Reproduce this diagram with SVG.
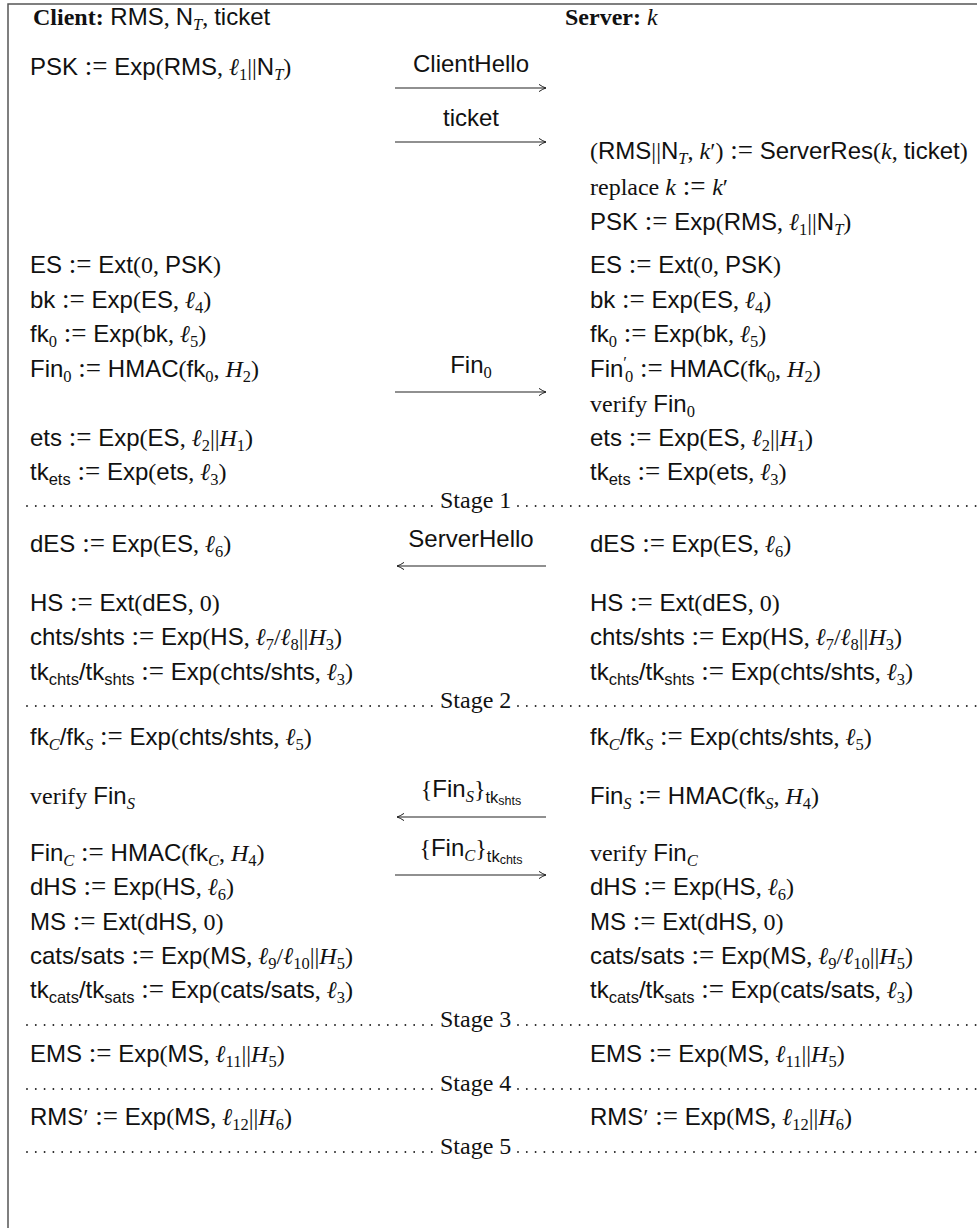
<svg xmlns="http://www.w3.org/2000/svg" width="977" height="1228" viewBox="0 0 977 1228">
<style>
text { font-family: "Liberation Sans", "DejaVu Sans", sans-serif; font-size: 24px; fill: #111; }
.r { font-family: "Liberation Serif", "DejaVu Serif", serif; }
.i { font-family: "Liberation Serif", "DejaVu Serif", serif; font-style: italic; }
.b { font-family: "Liberation Serif", "DejaVu Serif", serif; font-weight: bold; }
.eq { font-family: "Liberation Serif", "DejaVu Serif", serif; font-size: 27px; }
.s { font-size: 16.5px; }
.ss { font-size: 12.5px; }
.lbl { text-anchor: middle; }
.arrow { stroke: #222; stroke-width: 1.1; fill: none; marker-end: url(#ah); }
.dots { stroke: #222; stroke-width: 1.9; stroke-linecap: round; stroke-dasharray: 0 8.8; fill: none; }
.frame { stroke: #555; stroke-width: 1.5; fill: none; }
</style>
<defs>
<marker id="ah" markerUnits="userSpaceOnUse" viewBox="-9 -6 11 12" refX="0" refY="0" markerWidth="11" markerHeight="12" orient="auto">
<path d="M -7 -3.6 Q -3 -0.8 0 0 Q -3 0.8 -7 3.6" fill="none" stroke="#222" stroke-width="1"/>
</marker>
</defs>
<rect width="977" height="1228" fill="#fff"/>
<path class="frame" d="M 8 1228 V 4 H 977"/>

<g id="header-client"><text x="33" y="25"><tspan class="b">Client:</tspan> RMS<tspan class="r">, </tspan>N<tspan class="i s" dy="5">T</tspan><tspan class="r" dy="-5">, </tspan>ticket</text></g>
<g id="header-server"><text x="565" y="25"><tspan class="b">Server:</tspan><tspan class="i"> k</tspan></text></g>

<g id="client">
<g id="c-psk"><text x="30" y="75">PSK<tspan class="eq"> := </tspan>Exp<tspan class="r">(</tspan>RMS<tspan class="r">, </tspan><tspan class="i">ℓ</tspan><tspan class="r s" dy="5">1</tspan><tspan class="r" dy="-5">||</tspan>N<tspan class="i s" dy="5">T</tspan><tspan class="r" dy="-5">)</tspan></text></g>
<g id="c-es"><text x="30" y="273">ES<tspan class="eq"> := </tspan>Ext<tspan class="r">(0, </tspan>PSK<tspan class="r">)</tspan></text></g>
<g id="c-bk"><text x="30" y="308">bk<tspan class="eq"> := </tspan>Exp<tspan class="r">(</tspan>ES<tspan class="r">, </tspan><tspan class="i">ℓ</tspan><tspan class="r s" dy="5">4</tspan><tspan class="r" dy="-5">)</tspan></text></g>
<g id="c-fk0"><text x="30" y="342">fk<tspan class="r s" dy="5">0</tspan><tspan class="eq" dy="-5"> := </tspan>Exp<tspan class="r">(</tspan>bk<tspan class="r">, </tspan><tspan class="i">ℓ</tspan><tspan class="r s" dy="5">5</tspan><tspan class="r" dy="-5">)</tspan></text></g>
<g id="c-fin0"><text x="30" y="377">Fin<tspan class="r s" dy="5">0</tspan><tspan class="eq" dy="-5"> := </tspan>HMAC<tspan class="r">(</tspan>fk<tspan class="r s" dy="5">0</tspan><tspan class="r" dy="-5">, </tspan><tspan class="i">H</tspan><tspan class="r s" dy="5">2</tspan><tspan class="r" dy="-5">)</tspan></text></g>
<g id="c-ets"><text x="30" y="446">ets<tspan class="eq"> := </tspan>Exp<tspan class="r">(</tspan>ES<tspan class="r">, </tspan><tspan class="i">ℓ</tspan><tspan class="r s" dy="5">2</tspan><tspan class="r" dy="-5">||</tspan><tspan class="i">H</tspan><tspan class="r s" dy="5">1</tspan><tspan class="r" dy="-5">)</tspan></text></g>
<g id="c-tkets"><text x="30" y="480">tk<tspan class="s" dy="5">ets</tspan><tspan class="eq" dy="-5"> := </tspan>Exp<tspan class="r">(</tspan>ets<tspan class="r">, </tspan><tspan class="i">ℓ</tspan><tspan class="r s" dy="5">3</tspan><tspan class="r" dy="-5">)</tspan></text></g>
<g id="c-des"><text x="30" y="552">dES<tspan class="eq"> := </tspan>Exp<tspan class="r">(</tspan>ES<tspan class="r">, </tspan><tspan class="i">ℓ</tspan><tspan class="r s" dy="5">6</tspan><tspan class="r" dy="-5">)</tspan></text></g>
<g id="c-hs"><text x="30" y="611">HS<tspan class="eq"> := </tspan>Ext<tspan class="r">(</tspan>dES<tspan class="r">, 0)</tspan></text></g>
<g id="c-chts"><text x="30" y="645">chts/shts<tspan class="eq"> := </tspan>Exp<tspan class="r">(</tspan>HS<tspan class="r">, </tspan><tspan class="i">ℓ</tspan><tspan class="r s" dy="5">7</tspan><tspan class="r" dy="-5">/</tspan><tspan class="i">ℓ</tspan><tspan class="r s" dy="5">8</tspan><tspan class="r" dy="-5">||</tspan><tspan class="i">H</tspan><tspan class="r s" dy="5">3</tspan><tspan class="r" dy="-5">)</tspan></text></g>
<g id="c-tkchts"><text x="30" y="680">tk<tspan class="s" dy="5">chts</tspan><tspan dy="-5">/tk</tspan><tspan class="s" dy="5">shts</tspan><tspan class="eq" dy="-5"> := </tspan>Exp<tspan class="r">(</tspan>chts/shts<tspan class="r">, </tspan><tspan class="i">ℓ</tspan><tspan class="r s" dy="5">3</tspan><tspan class="r" dy="-5">)</tspan></text></g>
<g id="c-fkcs"><text x="30" y="745">fk<tspan class="i s" dy="5">C</tspan><tspan dy="-5">/fk</tspan><tspan class="i s" dy="5">S</tspan><tspan class="eq" dy="-5"> := </tspan>Exp<tspan class="r">(</tspan>chts/shts<tspan class="r">, </tspan><tspan class="i">ℓ</tspan><tspan class="r s" dy="5">5</tspan><tspan class="r" dy="-5">)</tspan></text></g>
<g id="c-verifys"><text x="30" y="804"><tspan class="r">verify </tspan>Fin<tspan class="i s" dy="5">S</tspan></text></g>
<g id="c-finc"><text x="30" y="861">Fin<tspan class="i s" dy="5">C</tspan><tspan class="eq" dy="-5"> := </tspan>HMAC<tspan class="r">(</tspan>fk<tspan class="i s" dy="5">C</tspan><tspan class="r" dy="-5">, </tspan><tspan class="i">H</tspan><tspan class="r s" dy="5">4</tspan><tspan class="r" dy="-5">)</tspan></text></g>
<g id="c-dhs"><text x="30" y="895">dHS<tspan class="eq"> := </tspan>Exp<tspan class="r">(</tspan>HS<tspan class="r">, </tspan><tspan class="i">ℓ</tspan><tspan class="r s" dy="5">6</tspan><tspan class="r" dy="-5">)</tspan></text></g>
<g id="c-ms"><text x="30" y="930">MS<tspan class="eq"> := </tspan>Ext<tspan class="r">(</tspan>dHS<tspan class="r">, 0)</tspan></text></g>
<g id="c-cats"><text x="30" y="964">cats/sats<tspan class="eq"> := </tspan>Exp<tspan class="r">(</tspan>MS<tspan class="r">, </tspan><tspan class="i">ℓ</tspan><tspan class="r s" dy="5">9</tspan><tspan class="r" dy="-5">/</tspan><tspan class="i">ℓ</tspan><tspan class="r s" dy="5">10</tspan><tspan class="r" dy="-5">||</tspan><tspan class="i">H</tspan><tspan class="r s" dy="5">5</tspan><tspan class="r" dy="-5">)</tspan></text></g>
<g id="c-tkcats"><text x="30" y="998">tk<tspan class="s" dy="5">cats</tspan><tspan dy="-5">/tk</tspan><tspan class="s" dy="5">sats</tspan><tspan class="eq" dy="-5"> := </tspan>Exp<tspan class="r">(</tspan>cats/sats<tspan class="r">, </tspan><tspan class="i">ℓ</tspan><tspan class="r s" dy="5">3</tspan><tspan class="r" dy="-5">)</tspan></text></g>
<g id="c-ems"><text x="30" y="1062">EMS<tspan class="eq"> := </tspan>Exp<tspan class="r">(</tspan>MS<tspan class="r">, </tspan><tspan class="i">ℓ</tspan><tspan class="r s" dy="5">11</tspan><tspan class="r" dy="-5">||</tspan><tspan class="i">H</tspan><tspan class="r s" dy="5">5</tspan><tspan class="r" dy="-5">)</tspan></text></g>
<g id="c-rms"><text x="30" y="1125">RMS<tspan class="r">′</tspan><tspan class="eq"> := </tspan>Exp<tspan class="r">(</tspan>MS<tspan class="r">, </tspan><tspan class="i">ℓ</tspan><tspan class="r s" dy="5">12</tspan><tspan class="r" dy="-5">||</tspan><tspan class="i">H</tspan><tspan class="r s" dy="5">6</tspan><tspan class="r" dy="-5">)</tspan></text></g>
</g>

<g id="server">
<g id="s-res"><text x="590" y="159"><tspan class="r">(</tspan>RMS<tspan class="r">||</tspan>N<tspan class="i s" dy="5">T</tspan><tspan class="r" dy="-5">, </tspan><tspan class="i">k</tspan><tspan class="r">′)</tspan><tspan class="eq"> := </tspan>ServerRes<tspan class="r">(</tspan><tspan class="i">k</tspan><tspan class="r">, </tspan>ticket<tspan class="r">)</tspan></text></g>
<g id="s-replace"><text x="590" y="195"><tspan class="r">replace </tspan><tspan class="i">k</tspan><tspan class="eq"> := </tspan><tspan class="i">k</tspan><tspan class="r">′</tspan></text></g>
<g id="s-psk"><text x="590" y="230">PSK<tspan class="eq"> := </tspan>Exp<tspan class="r">(</tspan>RMS<tspan class="r">, </tspan><tspan class="i">ℓ</tspan><tspan class="r s" dy="5">1</tspan><tspan class="r" dy="-5">||</tspan>N<tspan class="i s" dy="5">T</tspan><tspan class="r" dy="-5">)</tspan></text></g>
<g id="s-es"><text x="590" y="273">ES<tspan class="eq"> := </tspan>Ext<tspan class="r">(0, </tspan>PSK<tspan class="r">)</tspan></text></g>
<g id="s-bk"><text x="590" y="308">bk<tspan class="eq"> := </tspan>Exp<tspan class="r">(</tspan>ES<tspan class="r">, </tspan><tspan class="i">ℓ</tspan><tspan class="r s" dy="5">4</tspan><tspan class="r" dy="-5">)</tspan></text></g>
<g id="s-fk0"><text x="590" y="342">fk<tspan class="r s" dy="5">0</tspan><tspan class="eq" dy="-5"> := </tspan>Exp<tspan class="r">(</tspan>bk<tspan class="r">, </tspan><tspan class="i">ℓ</tspan><tspan class="r s" dy="5">5</tspan><tspan class="r" dy="-5">)</tspan></text></g>
<g id="s-fin0"><text x="590" y="377">Fin<tspan class="r s" dy="-9">′</tspan><tspan class="r s" dx="-2" dy="14">0</tspan><tspan class="eq" dy="-5"> := </tspan>HMAC<tspan class="r">(</tspan>fk<tspan class="r s" dy="5">0</tspan><tspan class="r" dy="-5">, </tspan><tspan class="i">H</tspan><tspan class="r s" dy="5">2</tspan><tspan class="r" dy="-5">)</tspan></text></g>
<g id="s-verify0"><text x="590" y="412"><tspan class="r">verify </tspan>Fin<tspan class="r s" dy="5">0</tspan></text></g>
<g id="s-ets"><text x="590" y="446">ets<tspan class="eq"> := </tspan>Exp<tspan class="r">(</tspan>ES<tspan class="r">, </tspan><tspan class="i">ℓ</tspan><tspan class="r s" dy="5">2</tspan><tspan class="r" dy="-5">||</tspan><tspan class="i">H</tspan><tspan class="r s" dy="5">1</tspan><tspan class="r" dy="-5">)</tspan></text></g>
<g id="s-tkets"><text x="590" y="480">tk<tspan class="s" dy="5">ets</tspan><tspan class="eq" dy="-5"> := </tspan>Exp<tspan class="r">(</tspan>ets<tspan class="r">, </tspan><tspan class="i">ℓ</tspan><tspan class="r s" dy="5">3</tspan><tspan class="r" dy="-5">)</tspan></text></g>
<g id="s-des"><text x="590" y="552">dES<tspan class="eq"> := </tspan>Exp<tspan class="r">(</tspan>ES<tspan class="r">, </tspan><tspan class="i">ℓ</tspan><tspan class="r s" dy="5">6</tspan><tspan class="r" dy="-5">)</tspan></text></g>
<g id="s-hs"><text x="590" y="611">HS<tspan class="eq"> := </tspan>Ext<tspan class="r">(</tspan>dES<tspan class="r">, 0)</tspan></text></g>
<g id="s-chts"><text x="590" y="645">chts/shts<tspan class="eq"> := </tspan>Exp<tspan class="r">(</tspan>HS<tspan class="r">, </tspan><tspan class="i">ℓ</tspan><tspan class="r s" dy="5">7</tspan><tspan class="r" dy="-5">/</tspan><tspan class="i">ℓ</tspan><tspan class="r s" dy="5">8</tspan><tspan class="r" dy="-5">||</tspan><tspan class="i">H</tspan><tspan class="r s" dy="5">3</tspan><tspan class="r" dy="-5">)</tspan></text></g>
<g id="s-tkchts"><text x="590" y="680">tk<tspan class="s" dy="5">chts</tspan><tspan dy="-5">/tk</tspan><tspan class="s" dy="5">shts</tspan><tspan class="eq" dy="-5"> := </tspan>Exp<tspan class="r">(</tspan>chts/shts<tspan class="r">, </tspan><tspan class="i">ℓ</tspan><tspan class="r s" dy="5">3</tspan><tspan class="r" dy="-5">)</tspan></text></g>
<g id="s-fkcs"><text x="590" y="745">fk<tspan class="i s" dy="5">C</tspan><tspan dy="-5">/fk</tspan><tspan class="i s" dy="5">S</tspan><tspan class="eq" dy="-5"> := </tspan>Exp<tspan class="r">(</tspan>chts/shts<tspan class="r">, </tspan><tspan class="i">ℓ</tspan><tspan class="r s" dy="5">5</tspan><tspan class="r" dy="-5">)</tspan></text></g>
<g id="s-fins"><text x="590" y="804">Fin<tspan class="i s" dy="5">S</tspan><tspan class="eq" dy="-5"> := </tspan>HMAC<tspan class="r">(</tspan>fk<tspan class="i s" dy="5">S</tspan><tspan class="r" dy="-5">, </tspan><tspan class="i">H</tspan><tspan class="r s" dy="5">4</tspan><tspan class="r" dy="-5">)</tspan></text></g>
<g id="s-verifyc"><text x="590" y="861"><tspan class="r">verify </tspan>Fin<tspan class="i s" dy="5">C</tspan></text></g>
<g id="s-dhs"><text x="590" y="895">dHS<tspan class="eq"> := </tspan>Exp<tspan class="r">(</tspan>HS<tspan class="r">, </tspan><tspan class="i">ℓ</tspan><tspan class="r s" dy="5">6</tspan><tspan class="r" dy="-5">)</tspan></text></g>
<g id="s-ms"><text x="590" y="930">MS<tspan class="eq"> := </tspan>Ext<tspan class="r">(</tspan>dHS<tspan class="r">, 0)</tspan></text></g>
<g id="s-cats"><text x="590" y="964">cats/sats<tspan class="eq"> := </tspan>Exp<tspan class="r">(</tspan>MS<tspan class="r">, </tspan><tspan class="i">ℓ</tspan><tspan class="r s" dy="5">9</tspan><tspan class="r" dy="-5">/</tspan><tspan class="i">ℓ</tspan><tspan class="r s" dy="5">10</tspan><tspan class="r" dy="-5">||</tspan><tspan class="i">H</tspan><tspan class="r s" dy="5">5</tspan><tspan class="r" dy="-5">)</tspan></text></g>
<g id="s-tkcats"><text x="590" y="998">tk<tspan class="s" dy="5">cats</tspan><tspan dy="-5">/tk</tspan><tspan class="s" dy="5">sats</tspan><tspan class="eq" dy="-5"> := </tspan>Exp<tspan class="r">(</tspan>cats/sats<tspan class="r">, </tspan><tspan class="i">ℓ</tspan><tspan class="r s" dy="5">3</tspan><tspan class="r" dy="-5">)</tspan></text></g>
<g id="s-ems"><text x="590" y="1062">EMS<tspan class="eq"> := </tspan>Exp<tspan class="r">(</tspan>MS<tspan class="r">, </tspan><tspan class="i">ℓ</tspan><tspan class="r s" dy="5">11</tspan><tspan class="r" dy="-5">||</tspan><tspan class="i">H</tspan><tspan class="r s" dy="5">5</tspan><tspan class="r" dy="-5">)</tspan></text></g>
<g id="s-rms"><text x="590" y="1125">RMS<tspan class="r">′</tspan><tspan class="eq"> := </tspan>Exp<tspan class="r">(</tspan>MS<tspan class="r">, </tspan><tspan class="i">ℓ</tspan><tspan class="r s" dy="5">12</tspan><tspan class="r" dy="-5">||</tspan><tspan class="i">H</tspan><tspan class="r s" dy="5">6</tspan><tspan class="r" dy="-5">)</tspan></text></g>
</g>

<g id="connectors">
<path class="arrow" d="M 395 88 H 546"/>
<text class="lbl" x="471" y="72">ClientHello</text>
<path class="arrow" d="M 395 142 H 546"/>
<text class="lbl" x="471" y="126">ticket</text>
<path class="arrow" d="M 395 392 H 546"/>
<text class="lbl" x="471" y="373">Fin<tspan class="r s" dy="5">0</tspan></text>
<path class="arrow" d="M 546 566 H 397"/>
<text class="lbl" x="471" y="547">ServerHello</text>
<path class="arrow" d="M 546 817 H 397"/>
<text class="lbl" x="471" y="797"><tspan class="r">{</tspan>Fin<tspan class="i s" dy="5">S</tspan><tspan class="r" dy="-5">}</tspan><tspan class="s" dy="6">tk</tspan><tspan class="ss" dy="2">shts</tspan></text>
<path class="arrow" d="M 395 875 H 546"/>
<text class="lbl" x="471" y="856"><tspan class="r">{</tspan>Fin<tspan class="i s" dy="5">C</tspan><tspan class="r" dy="-5">}</tspan><tspan class="s" dy="6">tk</tspan><tspan class="ss" dy="2">chts</tspan></text>
</g>

<g id="stages">
<path class="dots" d="M 27 506 H 434 M 518 506 H 977"/>
<text class="r" x="440" y="508">Stage 1</text>
<path class="dots" d="M 27 706 H 434 M 518 706 H 977"/>
<text class="r" x="440" y="708">Stage 2</text>
<path class="dots" d="M 27 1025 H 434 M 518 1025 H 977"/>
<text class="r" x="440" y="1027">Stage 3</text>
<path class="dots" d="M 27 1089 H 434 M 518 1089 H 977"/>
<text class="r" x="440" y="1091">Stage 4</text>
<path class="dots" d="M 27 1152 H 434 M 518 1152 H 977"/>
<text class="r" x="440" y="1154">Stage 5</text>
</g>
</svg>
